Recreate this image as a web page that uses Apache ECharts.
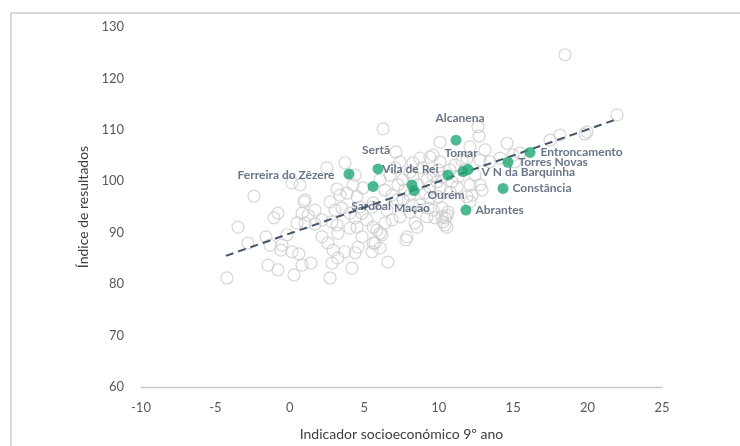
<!DOCTYPE html>
<html>
<head>
<meta charset="utf-8">
<script src="https://cdn.jsdelivr.net/npm/echarts@6/dist/echarts.min.js"></script>
<style>
  html, body { margin: 0; padding: 0; background: #ffffff; }
  #frame { position: absolute; left: 10px; top: 12px; width: 740px; height: 446px;
           border-left: 2px solid #d9d9d9; border-top: 2px solid #d9d9d9; }
  #chart { position: absolute; left: 0; top: 0; width: 740px; height: 446px; }
</style>
</head>
<body>
<div id="frame"></div>
<div id="chart"></div>
<script>
// ---------- DATA ----------
const xTicks = [-10, -5, 0, 5, 10, 15, 20, 25];
const yTicks = [60, 70, 80, 90, 100, 110, 120, 130];

const muniNames = ['Ferreira do Zêzere', 'Sertã', 'Sardoal', 'Mação', 'Ourém', 'Vila de Rei',
  'V N da Barquinha', 'Tomar', 'Alcanena', 'Entroncamento', 'Torres Novas', 'Constância', 'Abrantes'];
const muniX = [3.97, 5.92, 5.59, 8.2, 8.34, 10.62, 11.63, 11.97, 11.16, 16.13, 14.65, 14.32, 11.83];
const muniY = [101.4, 102.4, 99.0, 99.3, 98.2, 101.2, 101.9, 102.3, 108.0, 105.6, 103.7, 98.6, 94.4];

const otherX = [-2.41, -3.48, -2.81, -4.22, -0.80, -1.07, -1.60, -1.33, -0.53, -0.60, -0.19, 0.14, 0.61,
  -1.47, -0.80, 0.28, 0.82, 1.42, 0.95, 0.82, 1.22, 1.69, 0.48, 1.02, 1.69, 2.16, 2.56, 2.90, 3.23,
  2.70, 4.17, 3.70, 4.38, 4.58, 4.04, 4.51, 3.23, 3.17, 2.83, 2.70, 3.37, 3.84, 3.03, 3.50, 4.04,
  4.38, 4.85, 4.71, 2.16, 6.26, 3.70, 2.49, 7.13, 10.09, 0.14, 0.68, 1.02, 3.17, 4.24, 4.51, 4.91,
  4.85, 5.59, 6.53, 7.20, 7.73, 7.60, 8.07, 7.40, 6.86, 6.39, 8.54, 7.87, 6.06, 5.59, 5.18, 5.59,
  6.06, 6.59, 2.83, 7.40, 8.27, 8.74, 9.62, 10.09, 8.88, 8.27, 7.60, 9.62, 9.95, 9.41, 10.09, 9.41,
  9.62, 10.22, 9.21, 12.64, 12.71, 14.59, 15.46, 13.11, 12.10, 11.90, 12.77, 13.44, 14.12, 9.41,
  8.07, 9.21, 9.88, 10.22, 11.30, 12.44, 12.10, 12.77, 11.23, 10.76, 9.95, 11.90, 12.10, 9.28,
  10.22, 10.56, 10.29, 10.56, 18.15, 19.96, 21.98, 18.48, 17.48, 19.83, 15.12, 5.52, 5.85, 6.19,
  5.72, 5.52, 7.80, 8.41, 9.75, 10.42, 10.42, 10.62, 12.24, 12.91, 14.99, 4.38, 6.73, 7.26, 6.39,
  6.86, 8.61, 9.08, 8.07, 11.09, 11.56, 10.76, 7.06, 6.06, 11.76, 10.89, 8.74, 8.20];
const otherY = [97.1, 91.1, 88.0, 81.2, 93.8, 92.9, 89.2, 87.6, 87.6, 86.6, 89.6, 86.3, 85.9,
  83.7, 82.8, 81.8, 83.7, 84.1, 96.0, 93.8, 93.4, 94.4, 91.9, 91.9, 91.7, 89.2, 88.0, 86.6, 85.1,
  81.2, 83.1, 86.3, 86.1, 87.2, 90.9, 91.1, 89.9, 91.5, 92.1, 96.0, 97.3, 97.7, 94.4, 94.8, 93.8,
  92.9, 89.2, 95.0, 92.5, 110.2, 103.6, 102.6, 105.7, 107.6, 99.7, 99.3, 96.4, 98.5, 99.3, 97.0, 98.7,
  93.8, 95.8, 94.4, 96.4, 98.3, 96.4, 94.0, 93.1, 92.5, 91.9, 91.1, 89.2, 89.9, 91.1, 92.5, 88.0,
  87.0, 84.3, 84.1, 103.8, 103.6, 104.5, 105.1, 103.8, 102.6, 100.8, 100.3, 101.2, 102.2, 98.9, 98.7, 96.8,
  94.4, 93.1, 93.1, 110.6, 108.8, 107.4, 105.5, 106.1, 106.7, 104.5, 104.1, 103.8, 104.5, 104.7,
  101.8, 100.3, 99.9, 100.8, 100.8, 101.2, 99.3, 99.3, 98.9, 97.9, 97.0, 97.0, 96.0, 94.8,
  94.8, 93.4, 92.1, 91.1, 109.0, 109.6, 112.9, 124.6, 108.0, 109.2, 103.8, 95.0, 90.5, 89.6,
  88.0, 86.3, 88.6, 91.9, 92.9, 92.9, 91.5, 94.0, 97.3, 98.3, 105.1, 101.2, 101.2, 99.3, 98.3,
  97.3, 99.3, 97.7, 97.3, 103.2, 104.1, 102.2, 102.6, 100.3, 102.2, 99.9, 95.4, 95.4];

const trendX = [-4.3, 21.9];
const trendY = [85.5, 112.0];

// ---------- STYLE (label placement per municipality) ----------
const labelPlacement = {
  'Ferreira do Zêzere': { position: 'left', distance: 9, offset: [0, 1] },
  'Sertã': { position: 'top', distance: 7, offset: [-2, 0] },
  'Sardoal': { position: 'bottom', distance: 8, offset: [-2, 0] },
  'Mação': { position: 'bottom', distance: 12, offset: [0, 0] },
  'Ourém': { position: 'right', distance: 8, offset: [0, 5] },
  'Vila de Rei': { position: 'left', distance: 4, offset: [0, -6] },
  'V N da Barquinha': { position: 'right', distance: 13, offset: [0, 1] },
  'Tomar': { position: 'top', distance: 5, offset: [-7, 0] },
  'Alcanena': { position: 'top', distance: 11, offset: [4, 0] },
  'Entroncamento': { position: 'right', distance: 5, offset: [0, 0] },
  'Torres Novas': { position: 'right', distance: 5, offset: [0, 0] },
  'Constância': { position: 'right', distance: 4, offset: [0, 0] },
  'Abrantes': { position: 'right', distance: 4, offset: [0, 0] }
};

const otherData = otherX.map((x, i) => [x, otherY[i]]);
const trendData = trendX.map((x, i) => [x, trendY[i]]);
const muniData = muniNames.map((n, i) => {
  const p = labelPlacement[n];
  return {
    name: n,
    value: [muniX[i], muniY[i]],
    label: { show: true, position: p.position, distance: p.distance, offset: p.offset }
  };
});

const chart = echarts.init(document.getElementById('chart'), null, { renderer: 'canvas' });
chart.setOption({
  animation: false,
  grid: { left: 141, right: 78, top: 27, bottom: 59, containLabel: false },
  xAxis: {
    type: 'value',
    min: xTicks[0], max: xTicks[xTicks.length - 1], interval: 5,
    name: 'Indicador socioeconómico 9º ano',
    nameLocation: 'middle', nameGap: 40,
    nameTextStyle: { fontFamily: 'Lato', fontSize: 14, color: '#404040' },
    axisLine: { show: true, onZero: false, lineStyle: { color: '#c8c8c8', width: 1.3 } },
    axisTick: { show: false },
    splitLine: { show: false },
    axisLabel: { margin: 14, fontFamily: 'Lato', fontSize: 13, color: '#595959' }
  },
  yAxis: {
    type: 'value',
    min: yTicks[0], max: yTicks[yTicks.length - 1], interval: 10,
    name: 'Índice de resultados',
    nameLocation: 'middle', nameGap: 47,
    nameTextStyle: { fontFamily: 'Lato', fontSize: 14, color: '#404040' },
    axisLine: { show: false },
    axisTick: { show: false },
    splitLine: { show: false },
    axisLabel: { margin: 17, fontFamily: 'Lato', fontSize: 13, color: '#595959' }
  },
  series: [
    {
      type: 'scatter',
      data: otherData,
      symbol: 'circle',
      symbolSize: 12,
      itemStyle: { color: 'rgba(255,255,255,0)', borderColor: '#cccccc', borderWidth: 1.2 },
      z: 1
    },
    {
      type: 'line',
      data: trendData,
      showSymbol: false,
      symbol: 'none',
      lineStyle: { color: '#44546A', width: 2, type: [8, 5] },
      z: 2
    },
    {
      type: 'scatter',
      data: muniData,
      symbol: 'circle',
      symbolSize: 11,
      itemStyle: { color: '#1fa774' },
      label: { formatter: '{b}', fontFamily: 'Lato', fontWeight: 'bold', fontSize: 12, color: '#44546A' },
      z: 3
    }
  ]
});
</script>
</body>
</html>
